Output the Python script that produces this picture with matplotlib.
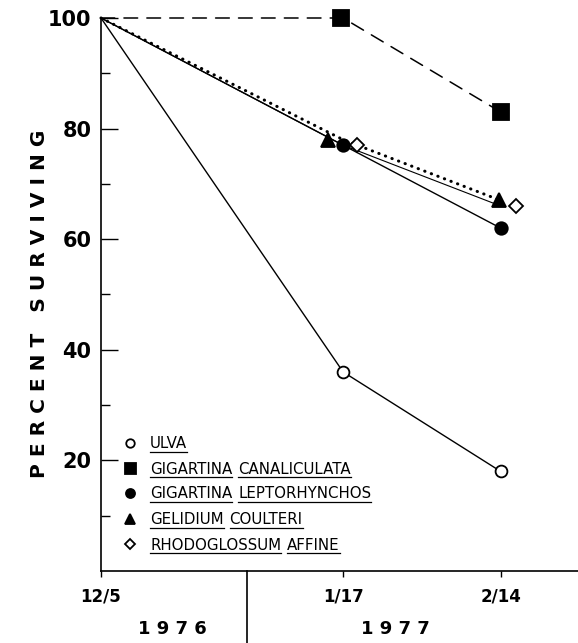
"""Percent surviving of algae transplants, Dec 1976 - Feb 1977."""

import matplotlib.pyplot as plt
from matplotlib.transforms import ScaledTranslation, blended_transform_factory


DAYS = [0, 43, 71]
DATE_LABELS = ["12/5", "1/17", "2/14"]
YEARS = ["1976", "1977"]

SERIES_NAMES = [
    "ULVA",
    "GIGARTINA CANALICULATA",
    "GIGARTINA LEPTORHYNCHOS",
    "GELIDIUM COULTERI",
    "RHODOGLOSSUM AFFINE",
]
ULVA = [100, 36, 18]
CANALICULATA = [100, 100, 83]
LEPTORHYNCHOS = [100, 77, 62]
COULTERI = [100, 78, 67]
AFFINE = [100, 77, 66]

Y_MAJOR = [20, 40, 60, 80, 100]
Y_MINOR = [10, 30, 50, 70, 90]

# layout / style (pixels of a 578x643 canvas)
W, H = 578, 643
YEAR_SPLIT_DAY = 26.0
YEAR_LABEL_DAYS = [12.6, 52.2]
BOLD = "DejaVu Sans"
NARROW = ["Liberation Sans Narrow", "DejaVu Sans"]

# shift = sideways nudge (px) of the markers at 1/17 and 2/14
STYLES = [
    dict(marker="o", mfc="white", ms=8.5, ls="-", lw=1.0, shift=[0, 0]),
    dict(marker="s", mfc="black", ms=11, ls=(0, (9, 6)), lw=1.1, shift=[-2, 0]),
    dict(marker="o", mfc="black", ms=9, ls="-", lw=1.0, shift=[0, 0]),
    dict(marker="^", mfc="black", ms=9.5, ls=(0, (0.1, 2.2)), lw=2.2,
         shift=[-15, -2]),
    dict(marker="D", mfc="white", ms=7.5, ls="-", lw=0.8, shift=[14, 15]),
]
SERIES = [ULVA, CANALICULATA, LEPTORHYNCHOS, COULTERI, AFFINE]


def px(x, y):
    """Canvas pixel (top-left origin) to figure fraction."""

    return x / W, 1 - y / H


def main() -> None:
    figure = plt.figure(figsize=(W / 100, H / 100), dpi=100)
    axis = figure.add_axes([101 / W, 72 / H, (W - 101) / W, (571 - 18) / H])

    for values, style in zip(SERIES, STYLES):
        axis.plot(
            DAYS,
            values,
            color="black",
            linestyle=style["ls"],
            linewidth=style["lw"],
            dash_capstyle="round",
            clip_on=False,
        )
        for day, value, dx in zip(DAYS[1:], values[1:], style["shift"]):
            shift = ScaledTranslation(dx / 100, 0, figure.dpi_scale_trans)
            axis.plot(
                [day],
                [value],
                linestyle="none",
                marker=style["marker"],
                markersize=style["ms"],
                markerfacecolor=style["mfc"],
                markeredgecolor="black",
                markeredgewidth=1.3,
                transform=axis.transData + shift,
                clip_on=False,
                zorder=3,
            )

    axis.set_xlim(0, (W - 101) / 5.63)
    axis.set_ylim(0, 100)

    axis.set_yticks(Y_MAJOR)
    axis.set_yticks(Y_MINOR, minor=True)
    axis.tick_params(axis="y", which="major", direction="in",
                     length=12, width=1, pad=7, labelsize=15)
    axis.tick_params(axis="y", which="minor", direction="in",
                     length=6.5, width=1)
    axis.set_xticks(DAYS, DATE_LABELS)
    axis.tick_params(axis="x", direction="out", length=4, width=1,
                     pad=8, labelsize=12)
    for label in axis.get_xticklabels() + axis.get_yticklabels():
        label.set_fontfamily(BOLD)
        label.set_fontweight("bold")

    axis.spines["top"].set_visible(False)
    axis.spines["right"].set_visible(False)
    for side in ["left", "bottom"]:
        axis.spines[side].set_linewidth(1.2)

    # year divider and year labels below the axis
    blend = blended_transform_factory(axis.transData, axis.transAxes)
    axis.plot([YEAR_SPLIT_DAY, YEAR_SPLIT_DAY], [0, -0.14], color="black",
              linewidth=1.2, transform=blend, clip_on=False)
    for day, year in zip(YEAR_LABEL_DAYS, YEARS):
        axis.text(day, -0.105, " ".join(year), transform=blend, ha="center",
                  va="center", fontsize=13, fontweight="bold",
                  fontfamily=BOLD)

    figure.text(*px(40, 304), " ".join("PERCENT") + "   " + " ".join("SURVIVING"),
                rotation=90, ha="center", va="center", fontsize=14.5,
                fontweight="bold", fontfamily=BOLD)

    # legend with underlined words
    renderer = figure.canvas.get_renderer()
    rows_y = [443, 468, 493, 519, 544]
    for name, style, row_y in zip(SERIES_NAMES, STYLES, rows_y):
        figure.lines.append(plt.Line2D(
            [px(130, row_y)[0]], [px(130, row_y)[1]],
            transform=figure.transFigure, linestyle="none",
            marker=style["marker"], markersize=style["ms"] * 0.72,
            markerfacecolor=style["mfc"], markeredgecolor="black",
            markeredgewidth=1.3,
        ))
        x_pos = 150
        for word in name.split():
            text = figure.text(*px(x_pos, row_y + 5.5), word,
                               fontsize=10.8, fontfamily=NARROW,
                               ha="left", va="baseline")
            box = text.get_window_extent(renderer)
            figure.lines.append(plt.Line2D(
                [px(box.x0, 0)[0], px(box.x1, 0)[0]],
                [px(0, row_y + 9)[1]] * 2,
                transform=figure.transFigure, color="black", linewidth=0.9,
            ))
            x_pos = box.x1 + 6

    figure.savefig("out.png", dpi=100)
    plt.close(figure)


if __name__ == "__main__":
    main()
